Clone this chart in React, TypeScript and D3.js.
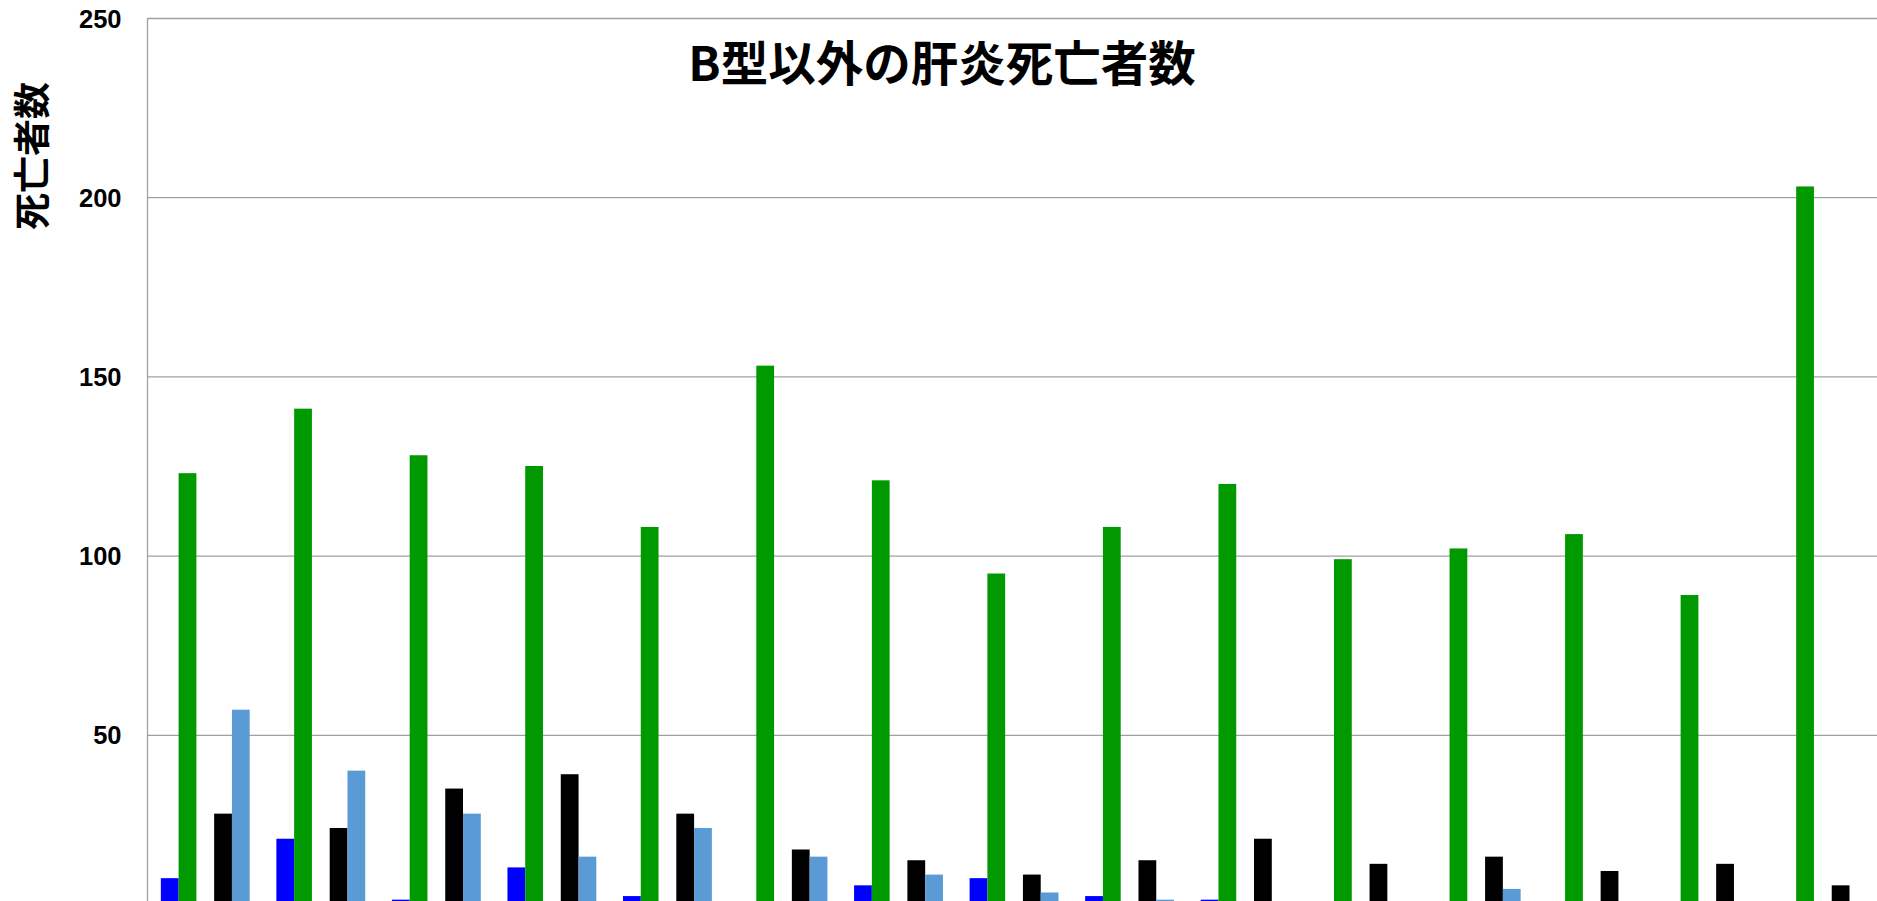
import React, { useEffect, useRef } from "react";
import * as d3 from "d3";

// x-axis labels sit below the visible area in the reference, so these are just indices
const categories = ["1", "2", "3", "4", "5", "6", "7", "8", "9", "10", "11", "12", "13", "14", "15"];
const seriesNames = ["系列1", "系列2", "系列3", "系列4", "系列5"];

const blueValues = [10, 21, 4, 13, 5, 0, 8, 10, 5, 4, 0, 0, 0, 0, 0];
const greenValues = [123, 141, 128, 125, 108, 153, 121, 95, 108, 120, 99, 102, 106, 89, 203];
const emptyValues = [0, 0, 0, 0, 0, 0, 0, 0, 0, 0, 0, 0, 0, 0, 0];
const blackValues = [28, 24, 35, 39, 28, 18, 15, 11, 15, 21, 14, 16, 12, 14, 8];
const lightBlueValues = [57, 40, 28, 16, 24, 16, 11, 6, 4, 0, 0, 7, 0, 0, 0];

const seriesColors = ["#0000ff", "#009900", "#7f7f7f", "#000000", "#5b9bd5"];
// the 0 tick falls below the visible area
const yTicks = [50, 100, 150, 200, 250];

const title = "B型以外の肝炎死亡者数";
const yLabel = "死亡者数";

const W = 1877;
const H = 901;

const App = () => {
    const ref = useRef<SVGSVGElement | null>(null);

    useEffect(() => {
        const svg = d3.select(ref.current);
        svg.selectAll("*").remove();

        const left = 147.5, top = 18, bottom = 914;
        const right = left + categories.length * 115.54;

        const rows = categories.map((c, i) => ({
            category: c,
            values: [blueValues[i], greenValues[i], emptyValues[i], blackValues[i], lightBlueValues[i]],
        }));

        const x0 = d3.scaleBand().domain(categories).range([left, right]).padding(0);
        // Excel style: gap width 150% of a bar
        const bw = x0.bandwidth() / 6.5;
        const x1 = d3.scaleBand().domain(seriesNames).range([0.75 * bw, x0.bandwidth() - 0.75 * bw]);
        const y = d3.scaleLinear().domain([0, 250]).range([bottom, top]);

        // gridlines + tick labels
        const yAxis = d3.axisLeft(y)
            .tickValues(yTicks)
            .tickSize(-(right - left))
            .tickPadding(26)
            .tickFormat(d3.format("d"));

        const g = svg.append("g")
            .attr("transform", `translate(${left},0)`)
            .call(yAxis);
        g.select(".domain").remove();
        g.selectAll(".tick line").attr("stroke", "#a0a0a0").attr("stroke-width", 1.3);
        g.selectAll(".tick text")
            .attr("fill", "#000")
            .attr("dy", "0.36em")
            .style("font-family", "'Liberation Sans', Arial, sans-serif")
            .style("font-weight", "bold")
            .style("font-size", "25.5px");

        svg.append("line")
            .attr("x1", left).attr("x2", left)
            .attr("y1", y(0)).attr("y2", y(250))
            .attr("stroke", "#a0a0a0")
            .attr("stroke-width", 1.3);

        // bars
        const groups = svg.append("g")
            .selectAll("g")
            .data(rows)
            .join("g")
            .attr("transform", d => `translate(${x0(d.category)},0)`);

        groups.selectAll("rect")
            .data(d => d.values.map((v, i) => ({ key: seriesNames[i], value: v, color: seriesColors[i] })))
            .join("rect")
            .attr("x", d => x1(d.key)!)
            .attr("width", x1.bandwidth())
            .attr("y", d => y(d.value))
            .attr("height", d => y(0) - y(d.value))
            .attr("fill", d => d.color);

        svg.append("text")
            .attr("x", 942)
            .attr("y", 60)
            .attr("text-anchor", "middle")
            .attr("dominant-baseline", "central")
            .style("font-family", "'Noto Sans CJK JP', sans-serif")
            .style("font-weight", "bold")
            .style("font-size", "47.5px")
            .text(title);

        svg.append("text")
            .attr("transform", "translate(30,156) rotate(-90)")
            .attr("text-anchor", "middle")
            .attr("dominant-baseline", "central")
            .style("font-family", "'Noto Sans CJK JP', sans-serif")
            .style("font-weight", "bold")
            .style("font-size", "37px")
            .text(yLabel);
    }, []);

    return (
        <div style={{ position: "fixed", left: 0, top: 0, width: W, height: H, overflow: "hidden", background: "#fff" }}>
            <svg ref={ref} width={W} height={H} style={{ display: "block" }} />
        </div>
    );
};

export default App;
